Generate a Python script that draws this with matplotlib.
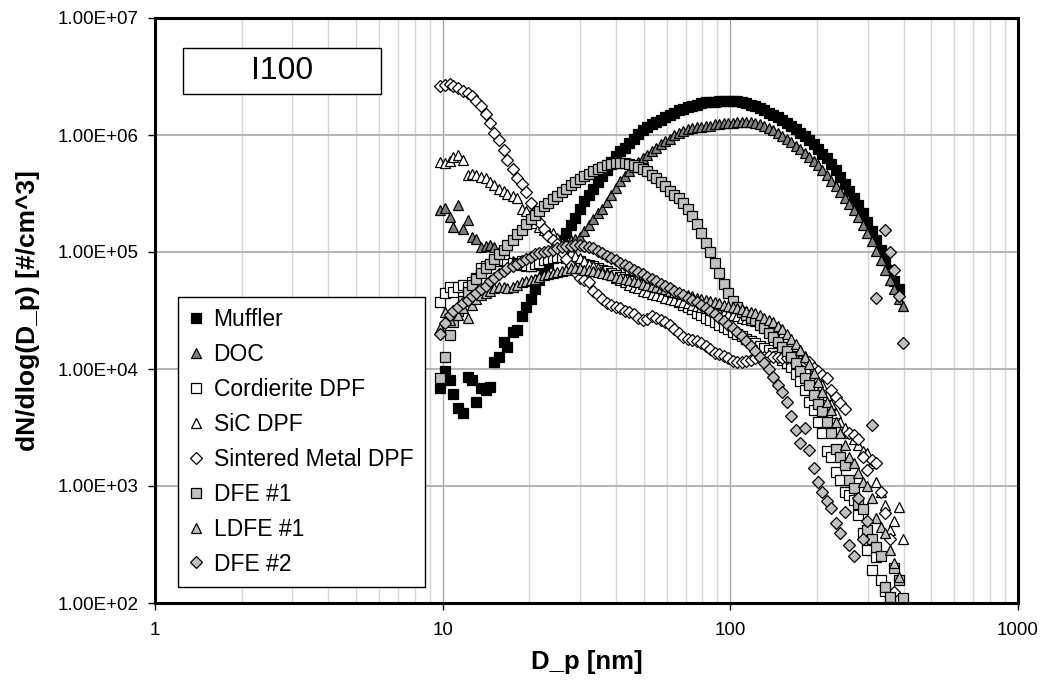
import numpy as np
import matplotlib
matplotlib.use("Agg")
import matplotlib.pyplot as plt
from matplotlib.patches import Rectangle
from matplotlib.ticker import FixedLocator, FuncFormatter, NullFormatter

plt.rcParams["font.family"] = ["Liberation Sans", "DejaVu Sans"]

nan = float("nan")

# SMPS channel midpoints (nm)
dp = [9.82, 10.2, 10.6, 10.9, 11.3, 11.8, 12.2, 12.6, 13.1, 13.6,
      14.1, 14.6, 15.1, 15.7, 16.3, 16.8, 17.5, 18.1, 18.8, 19.5,
      20.2, 20.9, 21.7, 22.5, 23.3, 24.1, 25.0, 25.9, 26.9, 27.9,
      28.9, 30.0, 31.1, 32.2, 33.4, 34.6, 35.9, 37.2, 38.5, 40.0,
      41.4, 42.9, 44.5, 46.1, 47.8, 49.6, 51.4, 53.3, 55.2, 57.3,
      59.4, 61.5, 63.8, 66.1, 68.5, 71.0, 73.7, 76.4, 79.1, 82.0,
      85.1, 88.2, 91.4, 94.7, 98.2, 101.8, 105.5, 109.4, 113.4, 117.6,
      121.9, 126.3, 131.0, 135.8, 140.7, 145.9, 151.2, 156.8, 162.5, 168.5,
      174.7, 181.1, 187.7, 194.6, 201.7, 209.1, 216.7, 224.7, 232.9, 241.4,
      250.3, 259.5, 269.0, 278.8, 289.0, 299.6, 310.6, 322.0, 333.8, 346.0,
      358.7, 371.8, 385.4, 399.5, 414.2]

# dN/dlog(Dp) per channel, as log10 values
lg_muffler = [3.84, 3.98, 3.91, 3.79, 3.67, 3.62, 3.93, 3.91, 3.72, 3.84,
              3.82, 3.85, 4.06, 4.10, 4.23, 4.19, 4.32, 4.33, 4.45, 4.53,
              4.60, 4.68, 4.76, 4.83, 4.91, 4.98, 5.04, 5.10, 5.16, 5.23,
              5.29, 5.37, 5.44, 5.49, 5.54, 5.60, 5.65, 5.70, 5.77, 5.82,
              5.86, 5.89, 5.93, 5.97, 6.01, 6.04, 6.07, 6.09, 6.11, 6.13,
              6.15, 6.17, 6.19, 6.21, 6.22, 6.24, 6.25, 6.26, 6.27, 6.28,
              6.28, 6.285, 6.29, 6.29, 6.29, 6.29, 6.29, 6.28, 6.27, 6.26,
              6.25, 6.23, 6.21, 6.19, 6.17, 6.15, 6.13, 6.10, 6.08, 6.05,
              6.02, 5.99, 5.96, 5.92, 5.88, 5.84, 5.80, 5.75, 5.70, 5.64,
              5.58, 5.52, 5.46, 5.40, 5.33, 5.26, 5.18, 5.10, 5.02, 4.93,
              4.85, 4.75, 4.68]
lg_doc = [5.36, 5.38, 5.30, 5.21, 5.40, 5.20, 5.27, 5.13, 5.11, 5.04,
          5.05, 5.06, 5.04, 5.00, 4.97, 4.94, 4.92, 4.90, 4.89, 4.88,
          4.88, 4.89, 4.90, 4.93, 4.96, 5.00, 5.03, 5.06, 5.08, 5.10,
          5.11, 5.13, 5.18, 5.23, 5.28, 5.33, 5.37, 5.43, 5.49, 5.55,
          5.61, 5.65, 5.69, 5.73, 5.77, 5.80, 5.83, 5.86, 5.89, 5.92,
          5.95, 5.97, 6.00, 6.02, 6.03, 6.05, 6.06, 6.07, 6.07, 6.08,
          6.08, 6.09, 6.09, 6.10, 6.10, 6.10, 6.11, 6.11, 6.11, 6.11,
          6.10, 6.09, 6.08, 6.06, 6.04, 6.02, 5.99, 5.97, 5.94, 5.91,
          5.88, 5.85, 5.81, 5.78, 5.74, 5.70, 5.66, 5.61, 5.56, 5.51,
          5.46, 5.41, 5.36, 5.30, 5.23, 5.16, 5.09, 5.01, 4.93, 4.85,
          4.76, 4.68, 4.60, 4.54]
lg_cordierite = [4.57, 4.65, 4.70, 4.66, 4.70, 4.72, 4.70, 4.74, 4.78, 4.86,
                 4.88, 4.90, 4.93, 4.92, 4.93, 4.90, 4.91, 4.90, 4.92, 4.89,
                 4.88, 4.90, 4.91, 4.93, 4.94, 4.95, 4.96, 4.96, 4.95, 4.94,
                 4.93, 4.92, 4.90, 4.89, 4.88, 4.86, 4.85, 4.84, 4.82, 4.80,
                 4.79, 4.77, 4.76, 4.75, 4.73, 4.72, 4.70, 4.69, 4.67, 4.65,
                 4.63, 4.61, 4.59, 4.57, 4.55, 4.53, 4.51, 4.48, 4.46, 4.44,
                 4.42, 4.40, 4.38, 4.36, 4.34, 4.32, 4.30, 4.28, 4.26, 4.24,
                 4.22, 4.20, 4.18, 4.16, 4.14, 4.11, 4.08, 4.05, 4.02, 3.96,
                 3.90, 3.82, 3.72, 3.65, 3.55, 3.45, 3.30, 3.25, 3.12, 3.05,
                 2.95, 2.92, 2.88, 2.75, 2.60, 2.45, 2.28, 2.39, 2.20, 2.10,
                 2.02]
lg_sic = [5.77, 5.76, 5.78, 5.815, 5.83, 5.79, 5.66, 5.67, 5.66, 5.64,
          5.63, 5.60, 5.57, 5.54, 5.52, 5.50, 5.48, 5.46, 5.37, 5.35,
          5.30, 5.25, 5.21, 5.19, 5.17, 5.16, 5.12, 5.08, 5.04, 5.00,
          4.97, 4.95, 4.92, 4.90, 4.88, 4.86, 4.84, 4.82, 4.80, 4.78,
          4.76, 4.74, 4.72, 4.70, 4.69, 4.67, 4.66, 4.64, 4.63, 4.62,
          4.61, 4.60, 4.59, 4.58, 4.57, 4.56, 4.55, 4.54, 4.53, 4.52,
          4.51, 4.50, 4.49, 4.48, 4.47, 4.46, 4.45, 4.44, 4.43, 4.42,
          4.41, 4.40, 4.38, 4.36, 4.34, 4.32, 4.30, 4.27, 4.24, 4.20,
          4.16, 4.11, 4.06, 4.00, 3.93, 3.86, 3.78, 3.70, 3.62, 3.55,
          3.50, 3.45, 3.40, 3.35, 3.30, 3.28, 3.20, 3.03, 2.95, 2.84,
          2.62, 2.70, 2.82, 2.55]
lg_sintered = [6.42, 6.43, 6.44, 6.42, 6.40, 6.38, 6.36, 6.33, 6.29, 6.25,
               6.18, 6.10, 6.02, 5.96, 5.87, 5.79, 5.71, 5.63, 5.58, 5.51,
               5.42, 5.34, 5.26, 5.20, 5.14, 5.10, 5.07, 5.00, 4.94, 4.88,
               4.83, 4.78, 4.76, 4.74, 4.67, 4.63, 4.60, 4.56, 4.55, 4.53,
               4.52, 4.50, 4.49, 4.47, 4.44, 4.42, 4.43, 4.45, 4.44, 4.42,
               4.40, 4.38, 4.34, 4.31, 4.27, 4.26, 4.25, 4.24, 4.22, 4.20,
               4.17, 4.14, 4.13, 4.11, 4.09, 4.07, 4.06, 4.06, 4.07, 4.08,
               4.09, 4.10, 4.10, 4.11, 4.10, 4.10, 4.09, 4.09, 4.09, 4.08,
               4.07, 4.06, 4.06, 4.01, 3.98, 3.95, 3.92, 3.82, 3.76, 3.71,
               3.66, 3.45, 3.44, 3.40, 3.25, 3.14, 3.22, 3.20, 2.95, 2.77,
               2.55, 2.09]
lg_dfe1 = [3.92, 4.10, 4.29, 4.40, 4.50, 4.58, 4.66, 4.72, 4.77, 4.82,
           4.86, 4.90, 4.94, 4.98, 5.02, 5.06, 5.10, 5.15, 5.19, 5.24,
           5.28, 5.32, 5.35, 5.39, 5.42, 5.45, 5.48, 5.51, 5.54, 5.57,
           5.60, 5.62, 5.65, 5.67, 5.69, 5.71, 5.73, 5.74, 5.75, 5.76,
           5.76, 5.76, 5.75, 5.74, 5.73, 5.71, 5.69, 5.66, 5.63, 5.60,
           5.56, 5.52, 5.49, 5.46, 5.42, 5.37, 5.31, 5.24, 5.16, 5.08,
           5.00, 4.91, 4.82, 4.73, 4.65, 4.58, 4.53, 4.49, 4.46, 4.44,
           4.42, 4.38, 4.35, 4.31, 4.27, 4.23, 4.19, 4.15, 4.10, 4.05,
           3.98, 3.92, 3.86, 3.78, 3.70, 3.64, 3.55, 3.45, 3.32, 3.25,
           3.18, 3.05, 2.98, 2.85, 2.80, 2.62, 2.55, 2.48, 2.40, 2.14,
           2.05, 2.30, 2.20, 2.04]
lg_ldfe1 = [4.35, 4.49, 4.42, 4.50, 4.46, 4.52, 4.44, 4.55, 4.60, 4.63,
            4.65, 4.67, 4.69, 4.70, 4.70, 4.69, 4.70, 4.72, 4.74, 4.75,
            4.76, 4.77, 4.79, 4.80, 4.81, 4.82, 4.83, 4.84, 4.85, 4.86,
            4.86, 4.86, 4.85, 4.85, 4.84, 4.83, 4.82, 4.81, 4.80, 4.79,
            4.78, 4.77, 4.76, 4.75, 4.74, 4.73, 4.72, 4.71, 4.70, 4.69,
            4.68, 4.67, 4.66, 4.65, 4.64, 4.63, 4.62, 4.61, 4.60, 4.59,
            4.58, 4.57, 4.56, 4.55, 4.54, 4.53, 4.52, 4.51, 4.50, 4.49,
            4.48, 4.46, 4.44, 4.42, 4.40, 4.37, 4.34, 4.30, 4.26, 4.21,
            4.16, 4.10, 4.04, 3.97, 3.89, 3.80, 3.72, 3.65, 3.55, 3.45,
            3.35, 3.25, 3.20, 3.11, 3.03, 3.00, 2.90, 2.73, 2.65, 2.60,
            2.45, 2.34, 2.22]
lg_dfe2 = [4.30, 4.39, 4.46, 4.50, 4.53, 4.56, 4.59, 4.62, 4.65, 4.68,
           4.71, 4.75, 4.78, 4.81, 4.84, 4.86, 4.88, 4.90, 4.92, 4.94,
           4.96, 4.98, 4.99, 5.00, 5.01, 5.02, 5.03, 5.04, 5.05, 5.05,
           5.06, 5.06, 5.05, 5.04, 5.03, 5.01, 4.99, 4.97, 4.95, 4.93,
           4.91, 4.89, 4.87, 4.85, 4.83, 4.81, 4.79, 4.77, 4.75, 4.73,
           4.71, 4.69, 4.67, 4.65, 4.63, 4.61, 4.59, 4.57, 4.55, 4.52,
           4.50, 4.47, 4.44, 4.41, 4.38, 4.35, 4.32, 4.28, 4.24, 4.20,
           4.15, 4.10, 4.05, 4.00, 3.93, 3.86, 3.80, 3.72, 3.60, 3.48,
           3.37, 3.50, 3.31, 3.15, 3.03, 2.95, 2.87, 2.81, 2.68, 2.60,
           2.78, 2.50, 2.40, 2.90, 2.55, 2.70, 3.52, 4.61, nan, 5.19,
           5.00, 4.85, 4.62, 4.22]

labels = ["Muffler", "DOC", "Cordierite DPF", "SiC DPF", "Sintered Metal DPF",
          "DFE #1", "LDFE #1", "DFE #2"]
series = [lg_muffler, lg_doc, lg_cordierite, lg_sic, lg_sintered,
          lg_dfe1, lg_ldfe1, lg_dfe2]
markers = ["s", "^", "s", "^", "D", "s", "^", "D"]
fills = ["#000000", "#808080", "#ffffff", "#ffffff", "#ffffff",
         "#c0c0c0", "#c0c0c0", "#c0c0c0"]
msizes = {"s": 6.6, "^": 7.8, "D": 6.0}

fig = plt.figure(figsize=(10.44, 6.9), dpi=100)
ax = fig.add_axes([155 / 1044, 1 - 603 / 690, 863 / 1044, 585 / 690])

x = np.array(dp)
for lab, lg, m, fc in zip(labels, series, markers, fills):
    y = np.full(len(x), np.nan)
    y[:len(lg)] = 10 ** np.array(lg, dtype=float)
    ax.plot(x, y, ls="none", marker=m, ms=msizes[m], mfc=fc, mec="black",
            mew=0.9, label=lab)

ax.set_xscale("log")
ax.set_yscale("log")
ax.set_xlim(1, 1000)
ax.set_ylim(1e2, 1e7)

ax.xaxis.set_major_locator(FixedLocator([1, 10, 100, 1000]))
ax.xaxis.set_major_formatter(FuncFormatter(lambda v, p: f"{v:g}"))
ax.xaxis.set_minor_locator(FixedLocator([k * d for d in (1, 10, 100) for k in range(2, 10)]))
ax.xaxis.set_minor_formatter(NullFormatter())
ax.yaxis.set_major_locator(FixedLocator([1e2, 1e3, 1e4, 1e5, 1e6, 1e7]))
ax.yaxis.set_major_formatter(FuncFormatter(lambda v, p: f"{v:.2E}"))
ax.yaxis.set_minor_locator(FixedLocator([]))

ax.grid(which="minor", axis="x", color="#d6d6d6", lw=1.0)
ax.grid(which="major", axis="x", color="#a8a8a8", lw=1.0)
ax.grid(which="major", axis="y", color="#b4b4b4", lw=1.4)
ax.set_axisbelow(True)

ax.tick_params(which="major", direction="out", length=5, width=1, labelsize=13.5)
ax.tick_params(which="minor", length=0)
ax.tick_params(axis="y", pad=7)
ax.tick_params(axis="x", pad=9)
for s in ax.spines.values():
    s.set_linewidth(2.2)
    s.set_color("black")

ax.set_xlabel("D_p [nm]", fontsize=18.5, fontweight="bold", va="center")
ax.xaxis.set_label_coords(0.5, -0.1)
ax.set_ylabel("dN/dlog(D_p) [#/cm^3]", fontsize=19, fontweight="bold", va="center")
ax.yaxis.set_label_coords(-0.147, 0.5)

# run label box
ax.add_patch(Rectangle((0.0324, 0.8701), 0.2294, 0.0786, transform=ax.transAxes,
                       fill=True, fc="white", ec="black", lw=1.0, zorder=5))
ax.text(0.0324 + 0.2294 / 2, 0.8701 + 0.0786 / 2, "I100", transform=ax.transAxes,
        ha="center", va="center", fontsize=23, zorder=6)

leg = ax.legend(loc="lower left", bbox_to_anchor=(0.0267, 0.0274), borderaxespad=0,
                fontsize=16.5, frameon=True, fancybox=False, edgecolor="black",
                framealpha=1, handlelength=0.6, handletextpad=0.45,
                labelspacing=0.52, borderpad=0.5)
leg.get_frame().set_linewidth(1.0)

fig.savefig("out.png", dpi=100, facecolor="white")
